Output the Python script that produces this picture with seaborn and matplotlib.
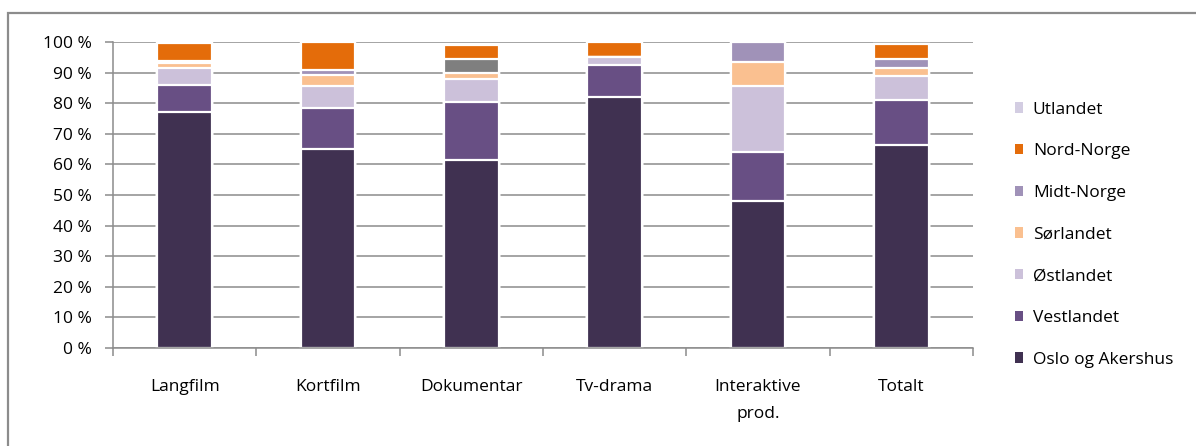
import numpy as np
import pandas as pd
import seaborn as sns
import matplotlib.pyplot as plt
from matplotlib.patches import Patch, Rectangle
from matplotlib.ticker import FuncFormatter

# categories (x axis)
categories = ["Langfilm", "Kortfilm", "Dokumentar", "Tv-drama", "Interaktive\nprod.", "Totalt"]

# share per region, in percent (bottom to top of each bar)
oslo = [77.2, 65.0, 61.6, 82.1, 47.9, 66.3]
vestlandet = [8.7, 13.4, 18.8, 10.3, 16.2, 14.6]
ostlandet = [5.7, 7.2, 7.4, 2.7, 21.4, 7.9]
sorlandet = [1.5, 3.6, 2.2, 0.0, 7.9, 2.6]
midtnorge = [0.8, 1.8, 4.3, 0.0, 6.5, 2.9]
nordnorge = [5.9, 9.0, 4.6, 4.9, 0.0, 4.9]
utlandet = [0.0, 0.0, 0.0, 0.0, 0.0, 0.0]

series_names = ["Oslo og Akershus", "Vestlandet", "Østlandet", "Sørlandet",
                "Midt-Norge", "Nord-Norge", "Utlandet"]
series_values = [oslo, vestlandet, ostlandet, sorlandet, midtnorge, nordnorge, utlandet]
series_colors = ["#403151", "#684f84", "#ccc1da", "#fac090", "#a092b8", "#e46c0a", "#d3cde2"]

df = pd.DataFrame({"kategori": categories})
cum = np.zeros(len(categories))
for name, vals in zip(series_names, series_values):
    cum = cum + np.array(vals)
    df[name] = cum.copy()

sns.set_theme(style="white")
plt.rcParams["font.family"] = ["Open Sans", "DejaVu Sans"]
plt.rcParams["text.color"] = "black"

fig = plt.figure(figsize=(11.96, 4.46), dpi=100)
ax = fig.add_axes([113 / 1196, (446 - 348) / 446, 860 / 1196, 306 / 446])

# draw cumulative totals from top series down so lower segments sit on top
for name, color in reversed(list(zip(series_names, series_colors))):
    if name == "Midt-Norge":
        # Dokumentar uses a grey fill for this segment
        pal = {c: color for c in categories}
        pal["Dokumentar"] = "#7f7f7f"
        sns.barplot(data=df, x="kategori", y=name, hue="kategori", palette=pal,
                    legend=False, width=0.38, edgecolor="white", linewidth=1.6,
                    saturation=1, ax=ax)
    else:
        sns.barplot(data=df, x="kategori", y=name, color=color, width=0.38,
                    edgecolor="white", linewidth=1.6, saturation=1, ax=ax)

ax.set_xlim(-0.5, len(categories) - 0.5)
ax.set_ylim(0, 100)
ax.set_yticks(np.arange(0, 101, 10))
ax.yaxis.set_major_formatter(FuncFormatter(lambda v, p: f"{int(v)} %"))
ax.set_xlabel("")
ax.set_ylabel("")
ax.set_axisbelow(True)
ax.yaxis.grid(True, color="#8c8c8c", linewidth=1.1)
ax.xaxis.grid(False)

for side in ["top", "right"]:
    ax.spines[side].set_visible(False)
for side in ["left", "bottom"]:
    ax.spines[side].set_color("#8c8c8c")
    ax.spines[side].set_linewidth(1.1)

ax.tick_params(axis="y", left=True, length=6, width=1.1, color="#8c8c8c",
               labelsize=12.5, pad=9.5, labelcolor="black")
ax.tick_params(axis="x", bottom=False, labelsize=12.5, pad=16, labelcolor="black")
for lbl in ax.get_xticklabels():
    lbl.set_linespacing(1.95)
ax.set_xticks(np.arange(-0.5, len(categories)), minor=True)
ax.tick_params(axis="x", which="minor", bottom=True, length=6, width=1.1,
               color="#8c8c8c")

handles = [Patch(facecolor=c, edgecolor="none", label=n)
           for n, c in zip(series_names, series_colors)][::-1]
fig.legend(handles=handles, loc="upper left", bbox_to_anchor=(999 / 1196, 1 - 86 / 446),
           frameon=False, fontsize=12.5, labelspacing=1.48, handlelength=0.5,
           handleheight=0.55, handletextpad=0.55)

# outer chart frame
fig.patches.append(Rectangle((8 / 1196, -0.1), 1.2, (446 - 13) / 446 + 0.1,
                             transform=fig.transFigure, fill=False,
                             edgecolor="#8c8c8c", linewidth=1.6))

fig.savefig("out.png", dpi=100)
